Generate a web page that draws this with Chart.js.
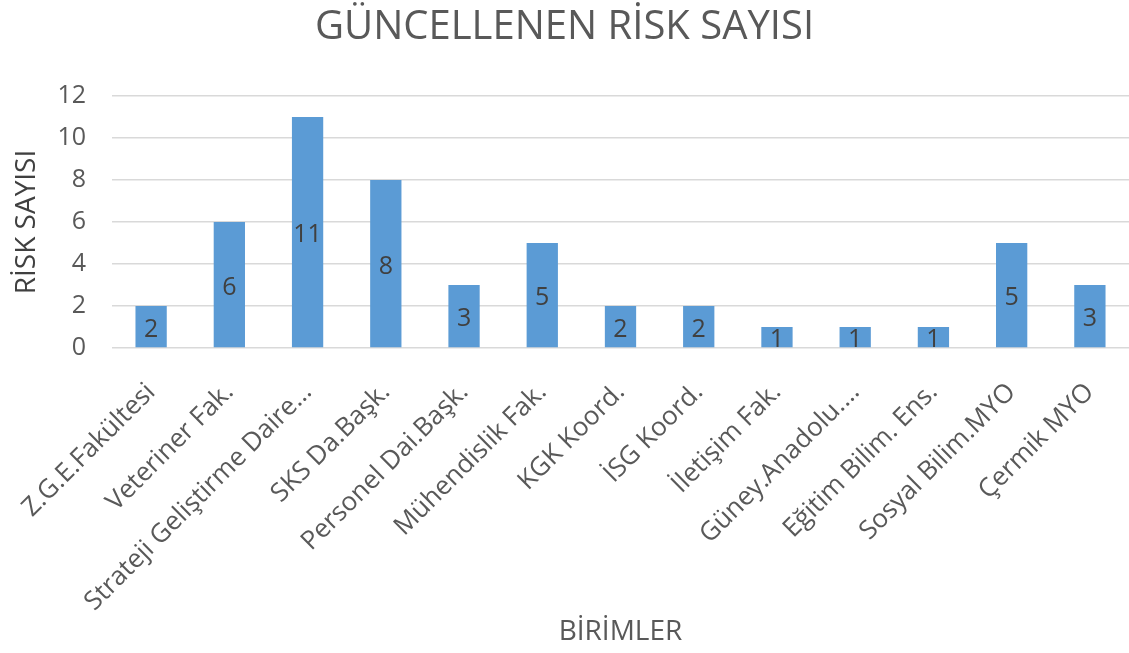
<!DOCTYPE html>
<html>
<head>
<meta charset="utf-8">
<script src="https://cdn.jsdelivr.net/npm/chart.js@4"></script>
<style>
html,body{margin:0;padding:0;background:#fff;}
#wrap{width:1129px;height:653px;position:relative;}
</style>
</head>
<body>
<div id="wrap"><canvas id="c" width="1129" height="653"></canvas></div>
<script>
const categories = ["Z.G.E.Fakültesi","Veteriner Fak.","Strateji Geliştirme Daire…","SKS Da.Başk.","Personel Dai.Başk.","Mühendislik Fak.","KGK Koord.","İSG Koord.","İletişim Fak.","Güney.Anadolu.…","Eğitim Bilim. Ens.","Sosyal Bilim.MYO","Çermik MYO"];
const riskCounts = [2,6,11,8,3,5,2,2,1,1,1,5,3];
const yTicks = [0,2,4,6,8,10,12];
const chartTitle = "GÜNCELLENEN RİSK SAYISI";
const yTitle = "RİSK SAYISI";
const xTitle = "BİRİMLER";

const FONT = "'Open Sans', 'Segoe UI', sans-serif";

const valueLabels = {
  id: 'valueLabels',
  afterDatasetsDraw(chart) {
    const ctx = chart.ctx;
    const meta = chart.getDatasetMeta(0);
    ctx.save();
    ctx.font = "25px " + FONT;
    ctx.fillStyle = "#404040";
    ctx.textAlign = "center";
    ctx.textBaseline = "middle";
    meta.data.forEach((bar, i) => {
      const p = bar.getProps(['x','y','base'], true);
      ctx.fillText(String(chart.data.datasets[0].data[i]), p.x, (p.y + p.base) / 2 + 3);
    });
    ctx.restore();
  }
};

new Chart(document.getElementById('c'), {
  type: 'bar',
  data: {
    labels: categories,
    datasets: [{
      data: riskCounts,
      backgroundColor: '#5B9BD5',
      borderWidth: 0,
      barPercentage: 0.40,
      categoryPercentage: 1.0
    }]
  },
  options: {
    responsive: false,
    animation: false,
    devicePixelRatio: 1,
    layout: { padding: { left: 0, right: 0, top: 0, bottom: 0 } },
    plugins: {
      legend: { display: false },
      tooltip: { enabled: false },
      title: {
        display: true,
        text: chartTitle,
        color: '#595959',
        font: { family: FONT, size: 40, weight: 'normal' },
        padding: { top: 4, bottom: 44 }
      }
    },
    scales: {
      x: {
        grid: { display: false },
        border: { display: false },
        ticks: {
          color: '#595959',
          font: { family: FONT, size: 26 },
          minRotation: 45,
          maxRotation: 45,
          autoSkip: false,
          padding: 21
        },
        title: {
          display: true,
          text: xTitle,
          color: '#595959',
          font: { family: FONT, size: 28 },
          padding: { top: 0, bottom: 4 }
        },
        afterFit(scale) {
          scale.height = 305;
          scale.paddingLeft = 0;
          scale.paddingRight = 0;
        }
      },
      y: {
        min: 0,
        max: 12,
        afterBuildTicks(scale) { scale.ticks = yTicks.map(v => ({ value: v })); },
        grid: { color: '#d9d9d9', lineWidth: 1.5, drawTicks: false },
        border: { display: false },
        ticks: {
          color: '#595959',
          font: { family: FONT, size: 25 },
          padding: 26
        },
        title: {
          display: true,
          text: yTitle,
          color: '#404040',
          font: { family: FONT, size: 28 },
          padding: { top: 10, bottom: 0 }
        },
        afterFit(scale) { scale.width = 112; }
      }
    }
  },
  plugins: [valueLabels]
});
</script>
</body>
</html>
